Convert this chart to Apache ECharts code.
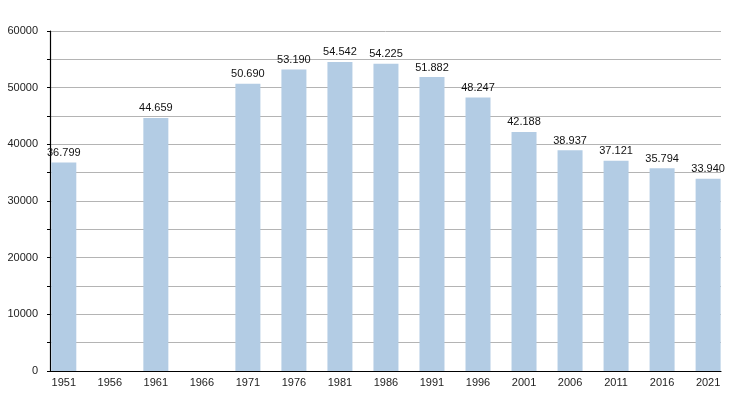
<!DOCTYPE html>
<html>
<head>
<meta charset="utf-8">
<script src="https://cdn.jsdelivr.net/npm/echarts@6/dist/echarts.min.js"></script>
<style>html,body{margin:0;padding:0;background:#fff}#c{width:750px;height:400px}</style>
</head>
<body>
<div id="c"></div>
<script>
var years = [1951, 1956, 1961, 1966, 1971, 1976, 1981, 1986, 1991, 1996, 2001, 2006, 2011, 2016, 2021];
var population = [36799, null, 44659, null, 50690, 53190, 54542, 54225, 51882, 48247, 42188, 38937, 37121, 35794, 33940];
var yTicks = [0, 10000, 20000, 30000, 40000, 50000, 60000];

function fmt(v) {
  return String(v).replace(/\B(?=(\d{3})+(?!\d))/g, '.');
}

var data = [];
for (var i = 0; i < years.length; i++) {
  if (population[i] != null) data.push([years[i], population[i]]);
}

var chart = echarts.init(document.getElementById('c'), null, {renderer: 'canvas'});
chart.setOption({
  animation: false,
  backgroundColor: '#fff',
  grid: {left: 50, right: 29, top: 31, bottom: 29, containLabel: false},
  xAxis: {
    type: 'value',
    min: 1949.5,
    max: 2022.4,
    splitLine: {show: false},
    axisLine: {show: true, lineStyle: {color: '#000', width: 1.2}},
    axisTick: {show: false},
    axisLabel: {
      customValues: years,
      color: '#222',
      fontSize: 11,
      fontFamily: 'Liberation Sans, Arial, sans-serif',
      margin: 6,
      formatter: function (v) { return String(v); }
    }
  },
  yAxis: {
    type: 'value',
    min: 0,
    max: 60000,
    interval: 5000,
    axisLine: {show: true, lineStyle: {color: '#000', width: 1.2}},
    axisTick: {show: true, length: 3, lineStyle: {color: '#000'}},
    splitLine: {show: true, lineStyle: {color: '#b4b4b4', width: 1}},
    axisLabel: {
      color: '#222',
      fontSize: 11,
      fontFamily: 'Liberation Sans, Arial, sans-serif',
      margin: 12,
      formatter: function (v) { return yTicks.indexOf(v) >= 0 ? String(v) : ''; }
    }
  },
  series: [{
    type: 'bar',
    data: data,
    barWidth: 25,
    itemStyle: {color: '#b3cce4'},
    label: {
      show: true,
      position: 'top',
      distance: 4,
      color: '#111',
      fontSize: 11,
      fontFamily: 'Liberation Sans, Arial, sans-serif',
      formatter: function (p) { return fmt(p.value[1]); }
    }
  }]
});
</script>
</body>
</html>
